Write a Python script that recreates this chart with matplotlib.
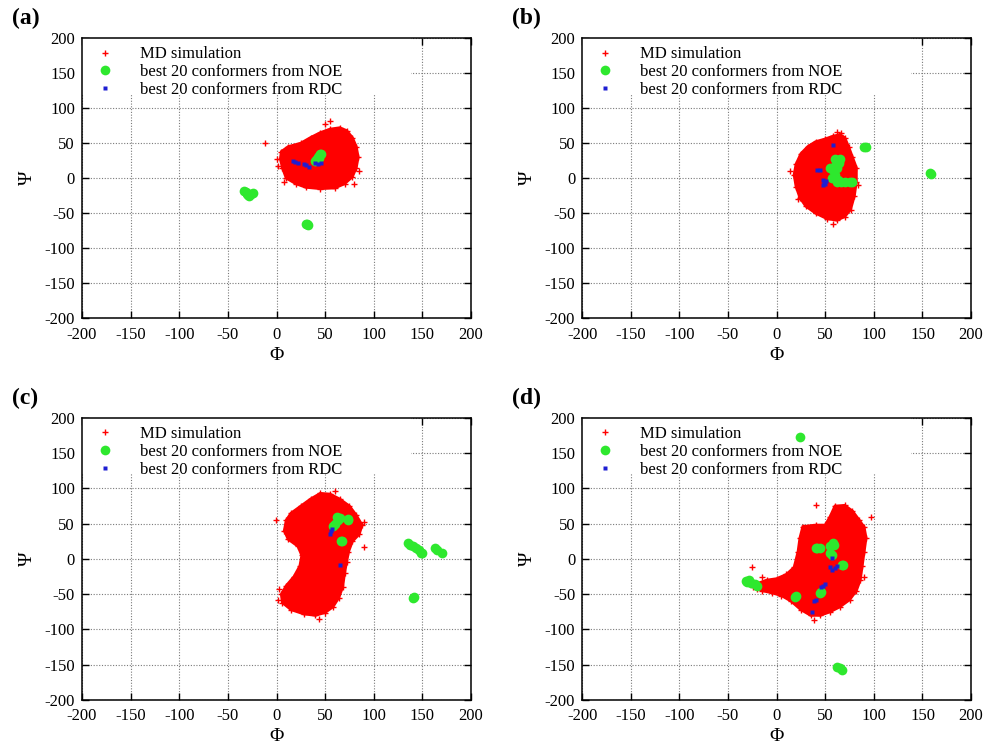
import numpy as np
import matplotlib
matplotlib.use("Agg")
import matplotlib.pyplot as plt
from matplotlib.patches import Rectangle

plt.rcParams['font.family'] = ['Liberation Serif', 'DejaVu Serif']
plt.rcParams['axes.unicode_minus'] = False

# ---------------------------------------------
# Phi/Psi data per panel: outline of the MD cloud,
# stray MD frames outside it, NOE and RDC conformers
# ---------------------------------------------
a_cloud = [(4, 28), (5, 38), (12, 45), (25, 50), (35, 58), (45, 65), (55, 70), (65, 72),
           (72, 68), (78, 58), (82, 45), (84, 30), (82, 15), (78, 2), (70, -8), (60, -14),
           (45, -15), (30, -13), (20, -8), (10, 0), (6, 15)]
a_md_extra = [(-12, 50), (55, 82), (85, 10), (0, 27), (2, 18), (80, -8), (50, 78), (8, -5)]
a_noe = [(-33, -18), (-31, -20), (-30, -22), (-28, -25), (-26, -22), (-24, -21), (-29, -24),
         (30, -66), (31, -65), (32, -67),
         (40, 25), (42, 27), (43, 30), (44, 32), (45, 35), (46, 34), (41, 26), (44, 29)]
a_rdc = [(17, 24), (19, 23), (22, 22), (28, 20), (30, 19), (33, 16), (40, 21), (43, 20), (46, 22)]

b_cloud = [(18, 5), (20, 20), (25, 35), (32, 45), (40, 52), (50, 56), (58, 60), (65, 62),
           (70, 58), (74, 45), (78, 30), (82, 15), (82, -5), (80, -25), (76, -45), (70, -55),
           (62, -60), (52, -58), (40, -50), (30, -40), (24, -28), (20, -12)]
b_md_extra = [(14, 10), (62, 66), (84, -10), (58, -66), (22, -30), (66, 64)]
b_noe = [(60, 28), (62, 25), (64, 22), (62, 15), (58, 12), (55, 15), (60, 5), (63, -2),
         (66, -5), (70, -5), (75, -5), (78, -6), (60, 18), (65, 28), (57, 0), (62, -5),
         (90, 45), (92, 44), (158, 7), (159, 6)]
b_rdc = [(58, 47), (42, 12), (45, 11), (48, -3), (49, -6), (50, -8), (48, -10), (51, -4)]

c_cloud = [(8, 40), (10, 55), (15, 65), (25, 75), (35, 85), (45, 93), (55, 92), (65, 85),
           (75, 75), (82, 62), (88, 48), (85, 35), (78, 25), (74, 10), (72, -5), (70, -20),
           (68, -40), (64, -55), (58, -68), (50, -76), (40, -80), (28, -78), (15, -72),
           (6, -62), (5, -50), (10, -38), (18, -25), (24, -10), (26, 5), (22, 18), (12, 28)]
c_md_extra = [(-1, 55), (90, 17), (3, -42), (60, 97), (44, -85), (90, 52), (2, -58)]
c_noe = [(62, 60), (63, 55), (60, 50), (58, 47), (65, 58), (73, 55), (74, 57), (66, 26),
         (67, 25), (135, 22), (137, 20), (140, 18), (143, 16), (146, 13), (149, 9), (150, 8),
         (163, 15), (165, 13), (170, 8), (141, -54), (140, -55)]
c_rdc = [(56, 40), (57, 42), (55, 35), (65, -9)]

d_cloud = [(-20, -35), (-10, -30), (0, -28), (10, -22), (18, -12), (22, 10), (24, 30),
           (27, 46), (40, 48), (50, 48), (55, 60), (60, 75), (70, 76), (78, 68), (85, 55),
           (90, 45), (92, 30), (90, 10), (88, -10), (86, -30), (82, -45), (75, -58),
           (65, -68), (55, -75), (45, -80), (35, -80), (25, -72), (15, -60), (5, -52),
           (-5, -48), (-15, -45), (-20, -42)]
d_md_extra = [(-25, -12), (97, 60), (40, 77), (38, -87), (-15, -25), (-24, -40), (90, -25)]
d_noe = [(24, 173), (-31, -31), (-30, -33), (-28, -30), (-26, -34), (-22, -36), (-20, -38),
         (20, -53), (19, -54), (40, 15), (42, 16), (45, 15), (55, 18), (58, 22), (59, 20),
         (55, 8), (57, 5), (67, -8), (68, -9), (45, -48), (46, -47), (62, -153), (65, -155),
         (67, -158)]
d_rdc = [(57, -16), (60, -13), (62, -10), (55, -12), (50, -35), (48, -38), (46, -40),
         (40, -58), (38, -60), (36, -75), (57, 2)]

panel_tags = ['(a)', '(b)', '(c)', '(d)']
tick_values = [-200, -150, -100, -50, 0, 50, 100, 150, 200]

panels = [
    (a_cloud, a_md_extra, a_noe, a_rdc),
    (b_cloud, b_md_extra, b_noe, b_rdc),
    (c_cloud, c_md_extra, c_noe, c_rdc),
    (d_cloud, d_md_extra, d_noe, d_rdc),
]

MD_RED = '#ff0000'
NOE_GREEN = '#2ee82e'
RDC_BLUE = '#1e1ed2'

# axes boxes in figure fractions [left, bottom, width, height]
boxes = [
    [0.0824, 0.574, 0.391, 0.375],
    [0.585, 0.574, 0.391, 0.375],
    [0.0824, 0.063, 0.391, 0.3775],
    [0.585, 0.063, 0.391, 0.3775],
]

fig = plt.figure(figsize=(9.95, 7.47), dpi=100)

for box, tag, (cloud, extra, noe, rdc) in zip(boxes, panel_tags, panels):
    ax = fig.add_axes(box)
    ax.set_xlim(-200, 200)
    ax.set_ylim(-200, 200)
    ax.set_xticks(tick_values)
    ax.set_yticks(tick_values)
    ax.set_axisbelow(True)
    ax.grid(True, color='#7a7a7a', linestyle=(0, (1, 1.5)), linewidth=0.8)
    ax.tick_params(direction='in', length=5, width=1, top=True, right=True, labelsize=12)
    ax.tick_params(axis='x', pad=6)
    ax.tick_params(axis='y', pad=5)
    for sp in ax.spines.values():
        sp.set_linewidth(1.1)

    # blank area under the key
    ax.add_patch(Rectangle((0, 0.8), 0.845, 0.2, transform=ax.transAxes,
                           facecolor='white', edgecolor='none', zorder=1))

    cx, cy = zip(*cloud)
    ax.fill(cx, cy, facecolor=MD_RED, edgecolor=MD_RED, linewidth=2, zorder=2)
    ex, ey = zip(*(cloud + extra))
    ax.plot(ex, ey, '+', color=MD_RED, ms=4, mew=1, linestyle='none', zorder=2,
            label='MD simulation')

    nx, ny = zip(*noe)
    ax.plot(nx, ny, 'o', color=NOE_GREEN, ms=7, mec='none', linestyle='none', zorder=3,
            label='best 20 conformers from NOE')
    rx, ry = zip(*rdc)
    ax.plot(rx, ry, 's', color=RDC_BLUE, ms=3.5, mec='none', linestyle='none', zorder=4,
            label='best 20 conformers from RDC')

    ax.legend(loc='upper left', bbox_to_anchor=(0.0, 1.0), frameon=False, fontsize=12,
              handlelength=1.8, handletextpad=1.2, labelspacing=0.1, borderpad=0.2,
              borderaxespad=0.3, markerscale=1.0)

    ax.set_xlabel('Φ', fontsize=14, labelpad=3)
    ax.set_ylabel('Ψ', fontsize=14, labelpad=6)
    ax.text(-0.18, 1.07, tag, transform=ax.transAxes, fontsize=17, fontweight='bold',
            ha='left', va='center')

fig.savefig('out.png', dpi=100)
